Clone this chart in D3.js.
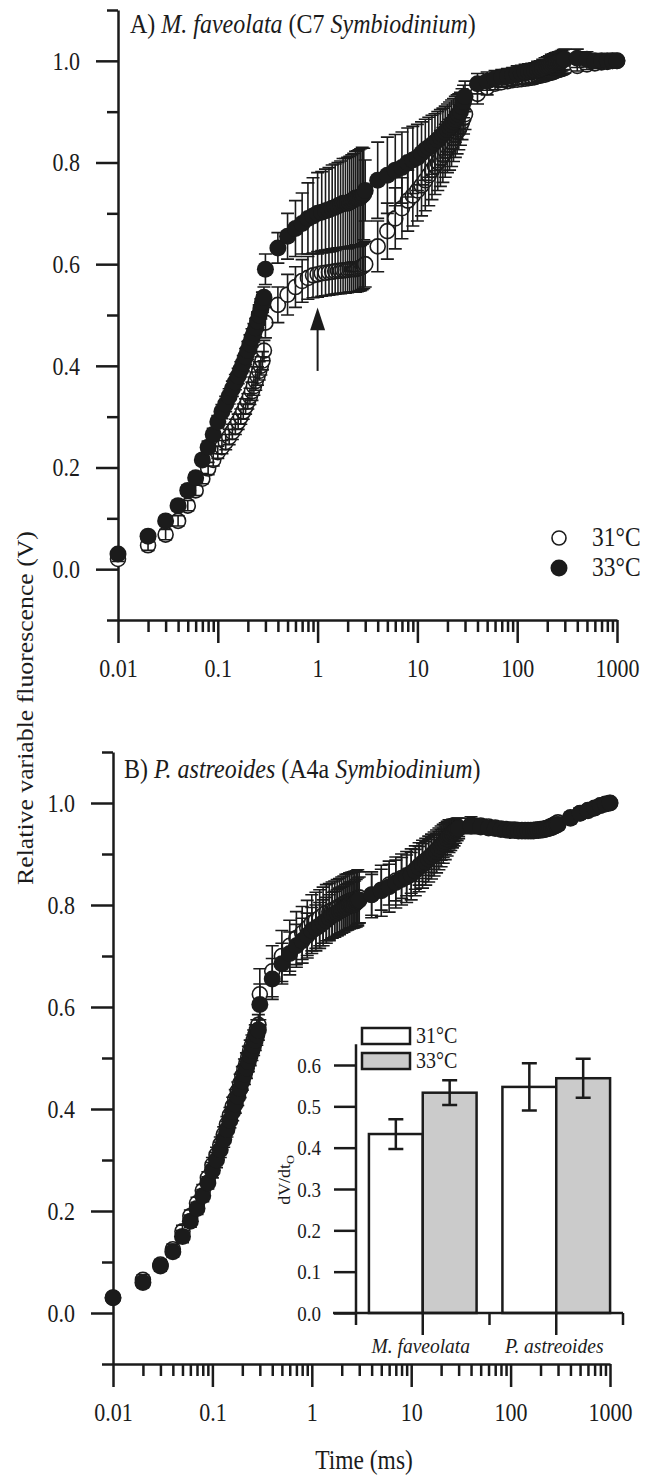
<!DOCTYPE html>
<html>
<head>
<meta charset="utf-8">
<script src="https://cdn.jsdelivr.net/npm/d3@7"></script>
<style>
  body { margin: 0; background: #fff; }
  svg { display: block; }
</style>
</head>
<body>
<div id="chart"></div>
<script>
// Tiempos de medición (ms), mismo esquema de muestreo que el fluorímetro
const TIMES = [
  0.01, 0.02, 0.03, 0.04, 0.05, 0.06, 0.07, 0.08, 0.09, 0.1,
  0.11, 0.12, 0.13, 0.14, 0.15, 0.16, 0.17, 0.18, 0.19, 0.2,
  0.21, 0.22, 0.23, 0.24, 0.25, 0.26, 0.27, 0.28, 0.29, 0.3,
  0.4, 0.5, 0.6, 0.7, 0.8, 0.9, 1,
  1.1, 1.2, 1.3, 1.4, 1.5, 1.6, 1.7, 1.8, 1.9, 2,
  2.1, 2.2, 2.3, 2.4, 2.5, 2.6, 2.7, 2.8, 2.9, 3,
  4, 5, 6, 7, 8, 9, 10,
  11, 12, 13, 14, 15, 16, 17, 18, 19, 20,
  21, 22, 23, 24, 25, 26, 27, 28, 29, 30,
  40, 50, 60, 70, 80, 90, 100,
  110, 120, 130, 140, 150, 160, 170, 180, 190, 200,
  210, 220, 230, 240, 250, 260, 270, 280, 290, 300,
  400, 500, 600, 700, 800, 900, 1000];

// Panel A - M. faveolata
const A31 = [
  0.02, 0.047, 0.068, 0.095, 0.125, 0.155, 0.178, 0.198, 0.215, 0.23,
  0.24, 0.25, 0.26, 0.27, 0.28, 0.29, 0.30, 0.31, 0.32, 0.33,
  0.34, 0.35, 0.36, 0.37, 0.38, 0.39, 0.40, 0.41, 0.43, 0.485,
  0.52, 0.54, 0.555, 0.567, 0.573, 0.578, 0.58,
  0.582, 0.583, 0.584, 0.585, 0.586, 0.587, 0.587, 0.588, 0.588, 0.589,
  0.59, 0.59, 0.59, 0.59, 0.591, 0.592, 0.593, 0.595, 0.597, 0.60,
  0.635, 0.665, 0.69, 0.71, 0.725, 0.735, 0.745,
  0.755, 0.765, 0.775, 0.785, 0.793, 0.80, 0.808, 0.815, 0.823, 0.83,
  0.835, 0.84, 0.848, 0.855, 0.86, 0.865, 0.872, 0.88, 0.888, 0.895,
  0.935, 0.948, 0.955, 0.958, 0.96, 0.962, 0.963,
  0.964, 0.965, 0.966, 0.967, 0.968, 0.97, 0.971, 0.972, 0.973, 0.975,
  0.976, 0.977, 0.978, 0.98, 0.981, 0.982, 0.983, 0.984, 0.985, 0.986,
  0.99, 0.993, 0.995, 0.997, 0.998, 1.0, 1.0];
const A31_ERR = [
  0.005, 0.01, 0.01, 0.01, 0.01, 0.01, 0.01, 0.012, 0.012, 0.012,
  0.013, 0.015, 0.015, 0.015, 0.015, 0.015, 0.015, 0.015, 0.015, 0.015,
  0.016, 0.018, 0.018, 0.018, 0.018, 0.018, 0.018, 0.018, 0.02, 0.03,
  0.035, 0.04, 0.04, 0.042, 0.042, 0.044, 0.045,
  0.045, 0.045, 0.045, 0.045, 0.045, 0.045, 0.045, 0.045, 0.045, 0.045,
  0.045, 0.045, 0.045, 0.045, 0.045, 0.045, 0.045, 0.045, 0.045, 0.045,
  0.05, 0.055, 0.06, 0.06, 0.06, 0.06, 0.06,
  0.06, 0.06, 0.06, 0.058, 0.056, 0.055, 0.055, 0.054, 0.052, 0.05,
  0.05, 0.048, 0.046, 0.045, 0.043, 0.04, 0.038, 0.035, 0.032, 0.03,
  0.02, 0.015, 0.012, 0.01, 0.01, 0.01, 0.01,
  0.01, 0.01, 0.01, 0.01, 0.01, 0.01, 0.01, 0.01, 0.01, 0.01,
  0.01, 0.01, 0.01, 0.01, 0.01, 0.01, 0.01, 0.01, 0.01, 0.01,
  0.01, 0.01, 0.01, 0.008, 0.008, 0.006, 0.005];
const A33 = [
  0.03, 0.065, 0.095, 0.125, 0.155, 0.18, 0.215, 0.24, 0.265, 0.29,
  0.31, 0.325, 0.34, 0.355, 0.368, 0.38, 0.393, 0.405, 0.418, 0.43,
  0.443, 0.455, 0.465, 0.475, 0.488, 0.50, 0.512, 0.525, 0.535, 0.59,
  0.632, 0.655, 0.67, 0.68, 0.69, 0.695, 0.70,
  0.702, 0.705, 0.707, 0.71, 0.712, 0.715, 0.717, 0.72, 0.72, 0.72,
  0.722, 0.725, 0.727, 0.73, 0.73, 0.73, 0.732, 0.735, 0.738, 0.745,
  0.765, 0.775, 0.785, 0.79, 0.80, 0.805, 0.81,
  0.818, 0.825, 0.83, 0.835, 0.84, 0.845, 0.85, 0.855, 0.86, 0.865,
  0.87, 0.875, 0.88, 0.885, 0.89, 0.895, 0.90, 0.91, 0.92, 0.93,
  0.955, 0.96, 0.965, 0.968, 0.97, 0.972, 0.975,
  0.976, 0.978, 0.979, 0.98, 0.981, 0.983, 0.984, 0.986, 0.988, 0.99,
  0.991, 0.993, 0.994, 0.996, 0.997, 0.998, 0.999, 1.0, 1.002, 1.003,
  1.005, 1.003, 1.0, 1.0, 1.0, 1.0, 1.0];
const A33_ERR = [
  0.005, 0.008, 0.008, 0.01, 0.01, 0.01, 0.01, 0.012, 0.012, 0.012,
  0.014, 0.015, 0.015, 0.015, 0.015, 0.015, 0.015, 0.015, 0.016, 0.018,
  0.018, 0.018, 0.018, 0.018, 0.018, 0.02, 0.02, 0.02, 0.02, 0.03,
  0.03, 0.045, 0.055, 0.06, 0.07, 0.075, 0.08,
  0.08, 0.082, 0.083, 0.085, 0.085, 0.085, 0.086, 0.088, 0.088, 0.09,
  0.09, 0.09, 0.091, 0.092, 0.093, 0.095, 0.095, 0.095, 0.09, 0.06,
  0.075, 0.075, 0.07, 0.07, 0.068, 0.066, 0.065,
  0.062, 0.06, 0.059, 0.058, 0.056, 0.055, 0.054, 0.052, 0.051, 0.05,
  0.049, 0.048, 0.046, 0.045, 0.043, 0.04, 0.038, 0.035, 0.032, 0.03,
  0.02, 0.018, 0.016, 0.015, 0.015, 0.015, 0.015,
  0.015, 0.015, 0.015, 0.015, 0.015, 0.016, 0.016, 0.017, 0.018, 0.018,
  0.019, 0.02, 0.02, 0.02, 0.02, 0.02, 0.02, 0.02, 0.02, 0.02,
  0.018, 0.015, 0.012, 0.01, 0.01, 0.01, 0.008];

// Panel B - P. astreoides
const B31 = [
  0.03, 0.065, 0.095, 0.125, 0.16, 0.19, 0.215, 0.24, 0.265, 0.29,
  0.31, 0.33, 0.35, 0.37, 0.388, 0.405, 0.42, 0.435, 0.45, 0.465,
  0.478, 0.49, 0.503, 0.515, 0.525, 0.535, 0.545, 0.555, 0.565, 0.625,
  0.67, 0.70, 0.72, 0.735, 0.745, 0.755, 0.765,
  0.77, 0.775, 0.78, 0.785, 0.787, 0.79, 0.792, 0.795, 0.797, 0.80,
  0.802, 0.805, 0.806, 0.808, 0.809, 0.81, 0.811, 0.812, 0.814, 0.815,
  0.82, 0.83, 0.84, 0.848, 0.853, 0.858, 0.863,
  0.87, 0.877, 0.883, 0.888, 0.893, 0.898, 0.903, 0.908, 0.913, 0.918,
  0.922, 0.927, 0.932, 0.936, 0.94, 0.943, 0.946, 0.948, 0.95, 0.952,
  0.958, 0.956, 0.954, 0.952, 0.95, 0.949, 0.948,
  0.948, 0.947, 0.947, 0.947, 0.947, 0.947, 0.947, 0.948, 0.948, 0.949,
  0.949, 0.95, 0.951, 0.952, 0.954, 0.955, 0.957, 0.958, 0.96, 0.962,
  0.972, 0.98, 0.986, 0.99, 0.995, 0.998, 1.0];
const B31_ERR = [
  0.005, 0.01, 0.01, 0.01, 0.012, 0.012, 0.012, 0.012, 0.012, 0.015,
  0.015, 0.015, 0.015, 0.015, 0.015, 0.018, 0.018, 0.018, 0.018, 0.018,
  0.02, 0.02, 0.02, 0.02, 0.02, 0.02, 0.02, 0.02, 0.02, 0.05,
  0.05, 0.05, 0.05, 0.052, 0.052, 0.054, 0.055,
  0.055, 0.055, 0.055, 0.055, 0.055, 0.055, 0.055, 0.055, 0.055, 0.055,
  0.055, 0.055, 0.055, 0.055, 0.055, 0.055, 0.055, 0.055, 0.055, 0.05,
  0.04, 0.04, 0.04, 0.04, 0.04, 0.04, 0.04,
  0.039, 0.038, 0.037, 0.036, 0.035, 0.034, 0.033, 0.032, 0.031, 0.03,
  0.029, 0.028, 0.027, 0.026, 0.025, 0.024, 0.022, 0.021, 0.02, 0.018,
  0.015, 0.012, 0.01, 0.01, 0.01, 0.01, 0.01,
  0.01, 0.01, 0.01, 0.01, 0.01, 0.01, 0.01, 0.01, 0.01, 0.01,
  0.01, 0.01, 0.01, 0.01, 0.01, 0.01, 0.01, 0.01, 0.01, 0.01,
  0.01, 0.01, 0.008, 0.008, 0.006, 0.005, 0.005];
const B33 = [
  0.03, 0.06, 0.092, 0.12, 0.15, 0.18, 0.205, 0.23, 0.255, 0.28,
  0.30, 0.32, 0.34, 0.36, 0.378, 0.395, 0.41, 0.425, 0.44, 0.455,
  0.468, 0.48, 0.493, 0.505, 0.515, 0.525, 0.535, 0.545, 0.555, 0.605,
  0.655, 0.685, 0.705, 0.72, 0.73, 0.74, 0.75,
  0.755, 0.76, 0.765, 0.77, 0.775, 0.78, 0.782, 0.785, 0.788, 0.79,
  0.792, 0.795, 0.797, 0.80, 0.80, 0.80, 0.802, 0.805, 0.808, 0.81,
  0.82, 0.828, 0.836, 0.844, 0.85, 0.855, 0.86,
  0.867, 0.874, 0.88, 0.885, 0.89, 0.895, 0.90, 0.905, 0.91, 0.915,
  0.92, 0.925, 0.93, 0.935, 0.937, 0.94, 0.942, 0.945, 0.948, 0.95,
  0.955, 0.953, 0.951, 0.95, 0.948, 0.947, 0.946,
  0.946, 0.945, 0.945, 0.945, 0.945, 0.945, 0.945, 0.946, 0.946, 0.947,
  0.947, 0.948, 0.949, 0.95, 0.951, 0.952, 0.954, 0.955, 0.957, 0.958,
  0.97, 0.98, 0.985, 0.99, 0.995, 0.998, 1.0];
const B33_ERR = [
  0.005, 0.01, 0.01, 0.01, 0.012, 0.012, 0.012, 0.012, 0.012, 0.015,
  0.015, 0.015, 0.015, 0.015, 0.015, 0.018, 0.018, 0.018, 0.018, 0.018,
  0.02, 0.02, 0.02, 0.02, 0.02, 0.02, 0.02, 0.02, 0.02, 0.04,
  0.04, 0.04, 0.042, 0.042, 0.044, 0.044, 0.045,
  0.045, 0.045, 0.045, 0.045, 0.045, 0.045, 0.045, 0.045, 0.045, 0.045,
  0.045, 0.045, 0.045, 0.045, 0.045, 0.045, 0.045, 0.045, 0.045, 0.045,
  0.045, 0.05, 0.05, 0.05, 0.05, 0.05, 0.05,
  0.049, 0.048, 0.047, 0.046, 0.045, 0.044, 0.043, 0.042, 0.041, 0.04,
  0.038, 0.036, 0.034, 0.032, 0.03, 0.028, 0.026, 0.024, 0.022, 0.02,
  0.015, 0.012, 0.01, 0.01, 0.01, 0.01, 0.01,
  0.01, 0.01, 0.01, 0.01, 0.01, 0.01, 0.01, 0.01, 0.01, 0.01,
  0.01, 0.01, 0.01, 0.01, 0.01, 0.01, 0.01, 0.01, 0.01, 0.01,
  0.01, 0.01, 0.008, 0.008, 0.006, 0.005, 0.005];

// Ejes
const X_TICKS = [0.01, 0.1, 1, 10, 100, 1000];
const Y_TICKS = [0, 0.2, 0.4, 0.6, 0.8, 1.0];
const Y_MINOR = [-0.1, 0.1, 0.3, 0.5, 0.7, 0.9, 1.1];

// Inset dV/dt0
const INSET_CATS = ["M. faveolata", "P. astreoides"];
const TEMPS = ["31°C", "33°C"];
const INSET_31 = [0.433, 0.547];
const INSET_31_ERR = [0.036, 0.057];
const INSET_33 = [0.533, 0.568];
const INSET_33_ERR = [0.03, 0.047];
const INSET_TICKS = [0, 0.1, 0.2, 0.3, 0.4, 0.5, 0.6];

const WIDTH = 657;
const HEIGHT = 1475;
const FONT = "Liberation Serif, Times New Roman, serif";
const INK = "#1b1b1b";
const STRETCH = 1.12; // el escaneo original tiene letras algo más altas

const SVG = d3.select("#chart")
  .append("svg")
  .attr("width", WIDTH)
  .attr("height", HEIGHT)
  .attr("font-family", FONT);

const PANELS = [
  { left: 118, right: 617, top: 10, bottom: 620, titleX: 130, titleY: 33,
    title: [["A) ", false], ["M. faveolata", true], [" (C7 ", false], ["Symbiodinium", true], [")", false]],
    s31: A31, e31: A31_ERR, s33: A33, e33: A33_ERR },
  { left: 113, right: 610, top: 752, bottom: 1364, titleX: 124, titleY: 778,
    title: [["B) ", false], ["P. astreoides", true], [" (A4a ", false], ["Symbiodinium", true], [")", false]],
    s31: B31, e31: B31_ERR, s33: B33, e33: B33_ERR }
];

const scales = PANELS.map(drawPanel);

function styleAxis(g, size) {
  g.attr("font-family", FONT).attr("font-size", size);
  g.selectAll("line, path").attr("stroke", INK).attr("stroke-width", 2.5);
  g.selectAll("text").attr("fill", INK).attr("transform", `scale(1,${STRETCH})`);
}

// texto suelto, posicionado con translate para poder estirarlo
function label(parent, x, y, size) {
  return parent.append("text")
    .attr("transform", `translate(${x},${y}) scale(1,${STRETCH})`)
    .attr("font-family", FONT)
    .attr("font-size", size).attr("fill", INK);
}

function drawPanel(p) {
  const x = d3.scaleLog().domain([0.01, 1000]).range([p.left, p.right]);
  const y = d3.scaleLinear().domain([-0.1, 1.1]).range([p.bottom, p.top]);
  const g = SVG.append("g");

  // eje y: mayores con etiqueta y menores sin etiqueta
  g.append("g")
    .attr("transform", `translate(${p.left},0)`)
    .call(d3.axisLeft(y).tickValues(Y_MINOR).tickSize(11).tickSizeOuter(0).tickFormat(""))
    .call(styleAxis, 22);
  g.append("g")
    .attr("transform", `translate(${p.left},0)`)
    .call(d3.axisLeft(y).tickValues(Y_TICKS).tickSize(22).tickPadding(16).tickSizeOuter(0).tickFormat(d3.format(".1f")))
    .call(ax => ax.select(".domain").remove())
    .call(styleAxis, 22)
    .selectAll("text").attr("dy", "0.34em");

  // eje x logarítmico
  const minor = x.ticks().filter(t => !X_TICKS.some(m => Math.abs(m - t) < 1e-9));
  g.append("g")
    .attr("transform", `translate(0,${p.bottom})`)
    .call(d3.axisBottom(x).tickValues(minor).tickSize(12).tickSizeOuter(0).tickFormat(""))
    .call(styleAxis, 22);
  g.append("g")
    .attr("transform", `translate(0,${p.bottom})`)
    .call(d3.axisBottom(x).tickValues(X_TICKS).tickSize(23).tickPadding(12).tickFormat(d => String(d)))
    .call(ax => ax.select(".domain").remove())
    .call(styleAxis, 22);

  // titulo del panel
  const title = label(g, p.titleX, p.titleY, 24);
  title.selectAll("tspan").data(p.title).join("tspan")
    .attr("font-style", d => d[1] ? "italic" : "normal")
    .text(d => d[0]);

  const rows31 = TIMES.map((t, i) => ({ t: t, v: p.s31[i], e: p.e31[i] }));
  const rows33 = TIMES.map((t, i) => ({ t: t, v: p.s33[i], e: p.e33[i] }));

  const errPath = d => {
    const cx = x(d.t), hi = y(d.v + d.e), lo = y(d.v - d.e);
    return `M${cx - 6.5},${hi}H${cx + 6.5}M${cx},${hi}V${lo}M${cx - 6.5},${lo}H${cx + 6.5}`;
  };

  // 31°C: circulos abiertos
  g.append("g").selectAll("circle").data(rows31).join("circle")
    .attr("cx", d => x(d.t)).attr("cy", d => y(d.v)).attr("r", 7.5)
    .attr("fill", "#fff").attr("stroke", INK).attr("stroke-width", 1.6);
  g.append("g").selectAll("path").data(rows31).join("path")
    .attr("d", errPath).attr("fill", "none").attr("stroke", INK).attr("stroke-width", 1.6);

  // 33°C: circulos rellenos
  g.append("g").selectAll("path").data(rows33).join("path")
    .attr("d", errPath).attr("fill", "none").attr("stroke", INK).attr("stroke-width", 1.6);
  g.append("g").selectAll("circle").data(rows33).join("circle")
    .attr("cx", d => x(d.t)).attr("cy", d => y(d.v)).attr("r", 8.5)
    .attr("fill", INK);

  return { x: x, y: y };
}

// Leyenda panel A
const legendA = SVG.append("g");
legendA.append("circle").attr("cx", 559).attr("cy", 538).attr("r", 7)
  .attr("fill", "#fff").attr("stroke", INK).attr("stroke-width", 1.6);
legendA.append("circle").attr("cx", 559).attr("cy", 568).attr("r", 8.5).attr("fill", INK);
TEMPS.forEach((t, i) => label(legendA, 592, 546 + i * 30, 23.5).text(t));

// Flecha en 1 ms (panel A)
const xa = scales[0].x, ya = scales[0].y;
SVG.append("line")
  .attr("x1", xa(1)).attr("x2", xa(1)).attr("y1", ya(0.39)).attr("y2", ya(0.475))
  .attr("stroke", INK).attr("stroke-width", 2);
SVG.append("path")
  .attr("d", `M${xa(1)},${ya(0.515)}L${xa(1) - 7.5},${ya(0.47)}L${xa(1) + 7.5},${ya(0.47)}Z`)
  .attr("fill", INK);

// Inset de barras
const inset = SVG.append("g");
const iy = d3.scaleLinear().domain([0, 0.6]).range([1313, 1065]);
const ix = d3.scaleBand().domain(INSET_CATS).range([356, 623]);
const isub = d3.scaleBand().domain(TEMPS).range([0, ix.bandwidth()]).paddingOuter(0.24);

const barRows = [];
INSET_CATS.forEach((c, i) => {
  barRows.push({ cat: c, temp: TEMPS[0], v: INSET_31[i], e: INSET_31_ERR[i] });
  barRows.push({ cat: c, temp: TEMPS[1], v: INSET_33[i], e: INSET_33_ERR[i] });
});

inset.selectAll("rect.bar").data(barRows).join("rect")
  .attr("class", "bar")
  .attr("x", d => ix(d.cat) + isub(d.temp))
  .attr("width", isub.bandwidth())
  .attr("y", d => iy(d.v))
  .attr("height", d => iy(0) - iy(d.v))
  .attr("fill", d => d.temp === TEMPS[0] ? "#fff" : "#cbcbcb")
  .attr("stroke", INK).attr("stroke-width", 2.5);

inset.selectAll("path.err").data(barRows).join("path")
  .attr("class", "err")
  .attr("d", d => {
    const cx = ix(d.cat) + isub(d.temp) + isub.bandwidth() / 2;
    const hi = iy(d.v + d.e), lo = iy(d.v - d.e);
    return `M${cx - 7.5},${hi}H${cx + 7.5}M${cx},${hi}V${lo}M${cx - 7.5},${lo}H${cx + 7.5}`;
  })
  .attr("fill", "none").attr("stroke", INK).attr("stroke-width", 2.5);

// eje y del inset
inset.append("g")
  .attr("transform", "translate(356,0)")
  .call(d3.axisLeft(iy).tickValues(INSET_TICKS).tickSize(22).tickPadding(13).tickSizeOuter(0).tickFormat(d3.format(".1f")))
  .call(ax => ax.select(".domain").remove())
  .call(styleAxis, 19)
  .selectAll("text").attr("dy", "0.34em");
inset.append("line")
  .attr("x1", 356).attr("x2", 356).attr("y1", iy(0)).attr("y2", iy(0.65))
  .attr("stroke", INK).attr("stroke-width", 2.5);

// eje x del inset: marcas cortas en los bordes, largas en el centro
inset.append("line")
  .attr("x1", 333).attr("x2", 623).attr("y1", iy(0)).attr("y2", iy(0))
  .attr("stroke", INK).attr("stroke-width", 2.5);
const edges = [ix(INSET_CATS[0]), ix(INSET_CATS[1]), ix(INSET_CATS[1]) + ix.bandwidth()];
inset.selectAll("line.edge").data(edges).join("line")
  .attr("class", "edge")
  .attr("x1", d => d).attr("x2", d => d).attr("y1", iy(0)).attr("y2", iy(0) + 12)
  .attr("stroke", INK).attr("stroke-width", 2.5);
inset.selectAll("line.mid").data(INSET_CATS).join("line")
  .attr("class", "mid")
  .attr("x1", d => ix(d) + ix.bandwidth() / 2).attr("x2", d => ix(d) + ix.bandwidth() / 2)
  .attr("y1", iy(0)).attr("y2", iy(0) + 22)
  .attr("stroke", INK).attr("stroke-width", 2.5);
INSET_CATS.forEach(c => {
  label(inset, ix(c) + ix.bandwidth() / 2 - 2, 1353, 19.5)
    .attr("text-anchor", "middle").attr("font-style", "italic").text(c);
});

// leyenda del inset
inset.selectAll("rect.key").data(TEMPS).join("rect")
  .attr("class", "key")
  .attr("x", 362).attr("y", (d, i) => 1028 + i * 25).attr("width", 48).attr("height", 16)
  .attr("fill", (d, i) => i === 0 ? "#fff" : "#cbcbcb")
  .attr("stroke", INK).attr("stroke-width", 2.5);
TEMPS.forEach((t, i) => label(inset, 416, 1043 + i * 25, 20).text(t));

// titulo del eje y del inset
const iyLabel = inset.append("text")
  .attr("transform", `translate(290,1180) rotate(-90) scale(${STRETCH},1)`)
  .attr("font-family", FONT)
  .attr("text-anchor", "middle").attr("font-size", 16).attr("fill", INK);
iyLabel.append("tspan").text("dV/dt");
iyLabel.append("tspan").attr("font-size", 11).attr("dy", 4).text("O");

// titulos de ejes principales
SVG.append("text")
  .attr("transform", `translate(25,708) rotate(-90) scale(${STRETCH},1)`)
  .attr("font-family", FONT)
  .attr("dy", "0.36em")
  .attr("text-anchor", "middle").attr("font-size", 23).attr("fill", INK)
  .text("Relative variable fluorescence (V)");
label(SVG, 364, 1469, 23.5).attr("text-anchor", "middle").text("Time (ms)");
</script>
</body>
</html>
